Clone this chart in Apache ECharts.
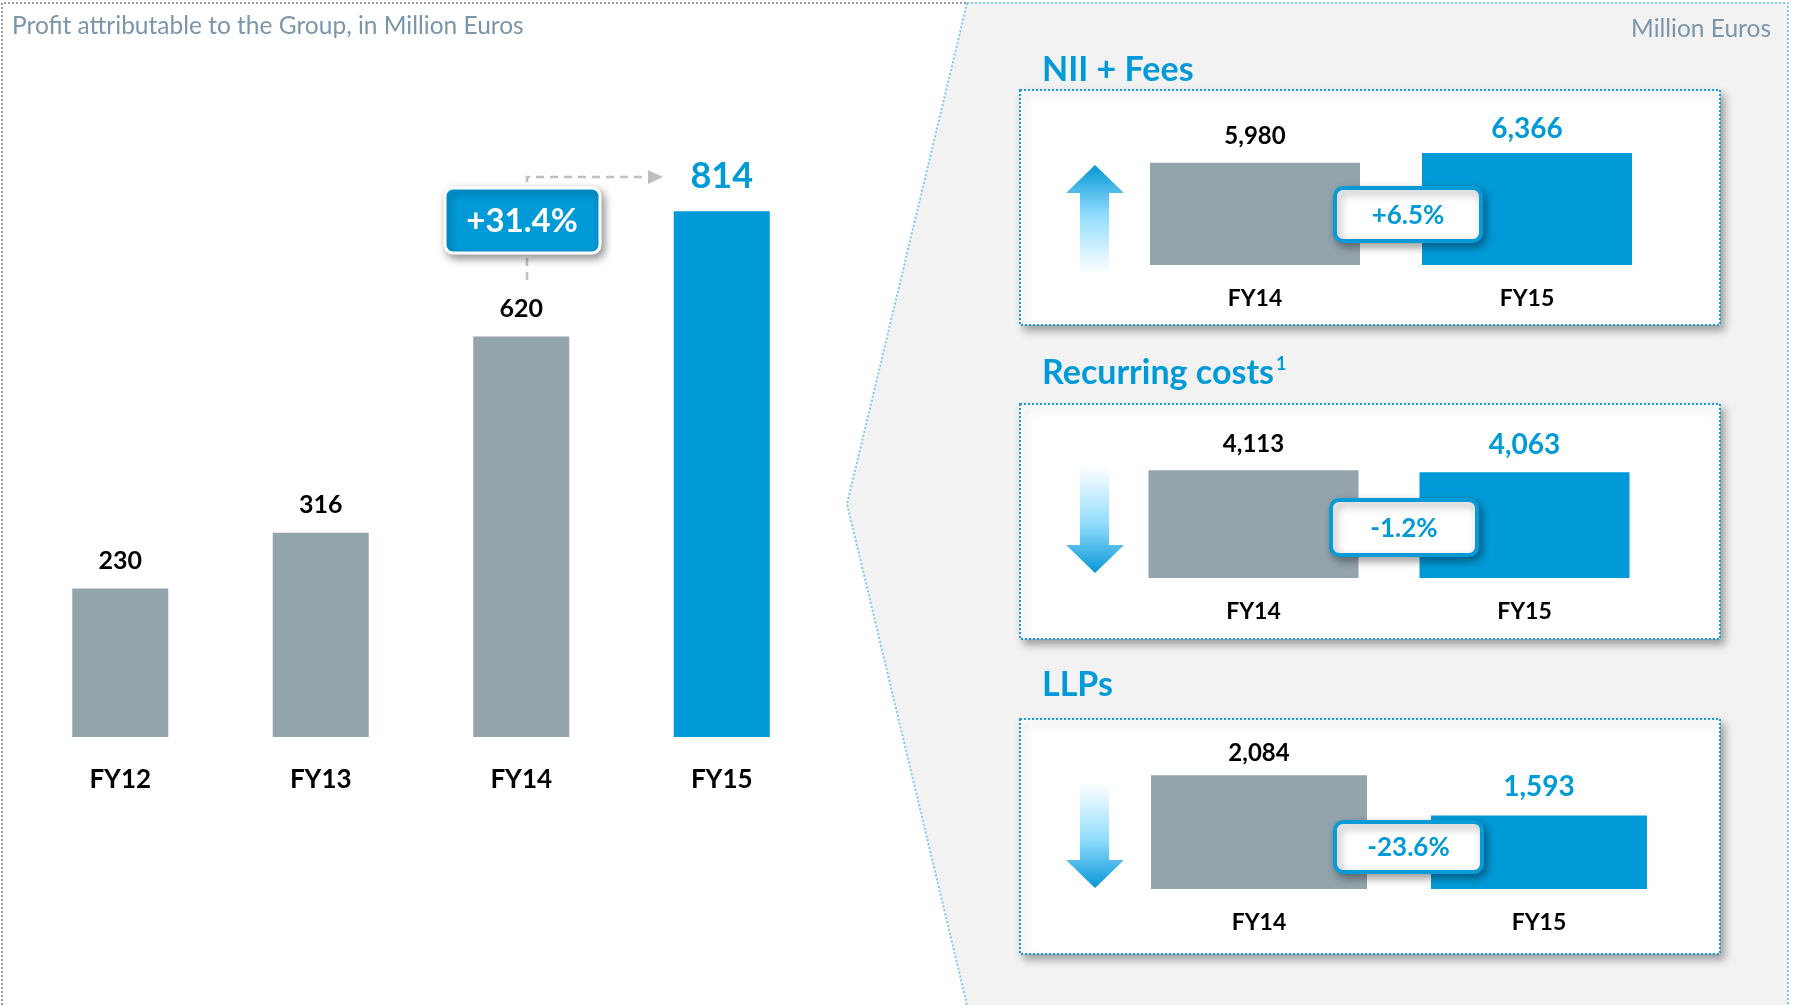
<!DOCTYPE html>
<html>
<head>
<meta charset="utf-8">
<script src="https://cdn.jsdelivr.net/npm/echarts@6/dist/echarts.min.js"></script>
<style>
  html, body { margin: 0; padding: 0; background: #ffffff; }
  #chart { width: 1795px; height: 1005px; }
</style>
</head>
<body>
<div id="chart"></div>
<script>
const years = ["FY12", "FY13", "FY14", "FY15"];
const profit = [230, 316, 620, 814];
const profitChange = "+31.4%";

const miniYears = ["FY14", "FY15"];
const niiFees = [5980, 6366];
const recurringCosts = [4113, 4063];
const llps = [2084, 1593];
const miniChanges = ["+6.5%", "-1.2%", "-23.6%"];
const miniTitles = ["NII + Fees", "Recurring costs", "LLPs"];

const GREY = "#94a4ad";
const BLUE = "#009ad8";
const FONT = "Lato";

const chartInstance = echarts.init(document.getElementById("chart"));

const fmt = (v) => v.toLocaleString("en-US");

// left big chart
const profitData = profit.map((v, i) => {
  const last = i === profit.length - 1;
  return {
    value: v,
    itemStyle: { color: last ? BLUE : GREY },
    label: last
      ? { color: BLUE, fontSize: 36, distance: 17, fontWeight: "bold", fontFamily: FONT }
      : { color: "#000", fontSize: 25, distance: 15, fontWeight: "bold", fontFamily: FONT },
  };
});

// mini charts: grid boxes + y range
const miniLayout = [
  { grid: { left: 1119, width: 544, top: 111, height: 154 }, min: 2000, max: 8000, barWidth: 210, data: niiFees, dist: [15, 10] },
  { grid: { left: 1118, width: 542, top: 413, height: 165 }, min: 1500, max: 5500, barWidth: 210, data: recurringCosts, dist: [14, 13] },
  { grid: { left: 1119, width: 560, top: 741, height: 148 }, min: 700, max: 2500, barWidth: 216, data: llps, dist: [10, 15] },
];

const grids = [{ left: 20, width: 802, top: 91, height: 646 }];
const xAxes = [
  {
    type: "category",
    gridIndex: 0,
    data: years,
    axisLine: { show: false },
    axisTick: { show: false },
    axisLabel: { color: "#000", fontFamily: FONT, fontWeight: "bold", fontSize: 26, margin: 30 },
  },
];
const yAxes = [{ type: "value", gridIndex: 0, min: 0, max: 1000, show: false }];
const series = [
  {
    type: "bar",
    xAxisIndex: 0,
    yAxisIndex: 0,
    barWidth: 96,
    data: profitData,
    label: { show: true, position: "top", fontFamily: FONT, fontWeight: "bold", formatter: (p) => fmt(p.value) },
  },
];

miniLayout.forEach((m, k) => {
  const idx = k + 1;
  grids.push(m.grid);
  xAxes.push({
    type: "category",
    gridIndex: idx,
    data: miniYears,
    axisLine: { show: false },
    axisTick: { show: false },
    axisLabel: { color: "#000", fontFamily: FONT, fontWeight: "bold", fontSize: 23, margin: 22 },
  });
  yAxes.push({ type: "value", gridIndex: idx, min: m.min, max: m.max, show: false });
  series.push({
    type: "bar",
    xAxisIndex: idx,
    yAxisIndex: idx,
    barWidth: m.barWidth,
    data: m.data.map((v, i) => ({
      value: v,
      itemStyle: { color: i === 1 ? BLUE : GREY },
      label: i === 1
        ? { color: BLUE, fontSize: 28, distance: m.dist[1], fontWeight: "bold", fontFamily: FONT }
        : { color: "#000", fontSize: 24, distance: m.dist[0], fontWeight: "bold", fontFamily: FONT },
    })),
    label: { show: true, position: "top", fontFamily: FONT, fontWeight: "bold", formatter: (p) => fmt(p.value) },
  });
});

// decoration
const dotted = (points, color) => ({
  type: "polyline",
  z: -5,
  silent: true,
  shape: { points },
  style: { stroke: color, lineWidth: 2, lineDash: [2, 2], fill: null },
});

const boxTops = [90, 404, 719];
const titleY = [70, 373, 685];
const pctBoxes = [
  { x: 1335, y: 188, w: 146, h: 53 },
  { x: 1331, y: 500, w: 146, h: 55 },
  { x: 1335, y: 822, w: 147, h: 50 },
];
const arrows = [
  { dir: "up", top: 165, bottom: 275 },
  { dir: "down", top: 465, bottom: 573 },
  { dir: "down", top: 782, bottom: 888 },
];

const graphics = [];

graphics.push({
  type: "polygon",
  z: -10,
  silent: true,
  shape: { points: [[967, 3], [1788, 3], [1788, 1005], [967, 1005], [847, 504]] },
  style: { fill: "#f2f2f2" },
});
graphics.push(dotted([[2, 1005], [2, 3], [967, 3]], "#9a9a9a"));
graphics.push(dotted([[967, 3], [1788, 3], [1788, 1005]], "#7fcbee"));
graphics.push(dotted([[967, 3], [847, 504], [967, 1005]], "#7fcbee"));

graphics.push({
  type: "text",
  left: 12,
  top: 14,
  style: { text: "Profit attributable to the Group, in Million Euros", fill: "#7b95a9", font: `24.5px ${FONT}` },
});
graphics.push({
  type: "text",
  right: 24,
  top: 17,
  style: { text: "Million Euros", fill: "#7b95a9", font: `24.5px ${FONT}` },
});

// +31.4% callout
graphics.push({
  type: "polyline",
  z: 5,
  silent: true,
  shape: { points: [[527, 280], [527, 177], [649, 177]] },
  style: { stroke: "#bfbfbf", lineWidth: 2.5, lineDash: [8, 6], fill: null },
});
graphics.push({
  type: "polygon",
  z: 5,
  shape: { points: [[648, 170], [663, 177], [648, 184]] },
  style: { fill: "#bfbfbf" },
});
graphics.push({
  type: "rect",
  z: 10,
  shape: { x: 445, y: 188, width: 155, height: 65, r: 8 },
  style: {
    fill: BLUE, stroke: "#fff", lineWidth: 3,
    shadowBlur: 8, shadowOffsetX: 3, shadowOffsetY: 4, shadowColor: "rgba(0,0,0,0.4)",
  },
});
graphics.push({
  type: "text",
  z: 11,
  x: 522,
  y: 221,
  style: { text: profitChange, fill: "#fff", font: `bold 33px ${FONT}`, align: "center", verticalAlign: "middle" },
});

miniLayout.forEach((m, k) => {
  graphics.push({
    type: "rect",
    z: -5,
    silent: true,
    shape: { x: 1020, y: boxTops[k], width: 700, height: 235 },
    style: {
      fill: "#fff", stroke: "#1a9bd7", lineWidth: 2, lineDash: [2, 2],
      shadowBlur: 8, shadowOffsetX: 4, shadowOffsetY: 5, shadowColor: "rgba(0,0,0,0.35)",
    },
  });

  graphics.push({
    type: "text",
    z: 3,
    x: 1042,
    y: titleY[k],
    style: k === 1
      ? {
          text: `{a|${miniTitles[k]}}{b|1}`,
          verticalAlign: "middle",
          rich: {
            a: { fontFamily: FONT, fontWeight: "bold", fontSize: 34, fill: BLUE, lineHeight: 40 },
            b: { fontFamily: FONT, fontWeight: "bold", fontSize: 18, fill: BLUE, verticalAlign: "top", padding: [2, 0, 0, 2] },
          },
        }
      : { text: miniTitles[k], fill: BLUE, font: `bold 34px ${FONT}`, verticalAlign: "middle" },
  });

  const a = arrows[k];
  const pts = a.dir === "up"
    ? [[1095, a.top], [1124, a.top + 28], [1109, a.top + 28], [1109, a.bottom], [1080, a.bottom], [1080, a.top + 28], [1066, a.top + 28]]
    : [[1095, a.bottom], [1124, a.bottom - 28], [1109, a.bottom - 28], [1109, a.top], [1080, a.top], [1080, a.bottom - 28], [1066, a.bottom - 28]];
  const stops = [
    { offset: 0, color: "#0896d6" },
    { offset: 0.45, color: "#8fdcfd" },
    { offset: 1, color: "rgba(255,255,255,0.9)" },
  ];
  graphics.push({
    type: "polygon",
    z: 3,
    silent: true,
    shape: { points: pts },
    style: {
      fill: a.dir === "up"
        ? new echarts.graphic.LinearGradient(0, 0, 0, 1, stops)
        : new echarts.graphic.LinearGradient(0, 1, 0, 0, stops),
    },
  });

  const b = pctBoxes[k];
  graphics.push({
    type: "rect",
    z: 10,
    shape: { x: b.x, y: b.y, width: b.w, height: b.h, r: 8 },
    style: {
      fill: "#fff", stroke: "#0a9ad8", lineWidth: 4,
      shadowBlur: 8, shadowOffsetX: 3, shadowOffsetY: 4, shadowColor: "rgba(0,0,0,0.35)",
    },
  });
  graphics.push({
    type: "text",
    z: 11,
    x: b.x + b.w / 2,
    y: b.y + b.h / 2 + 1,
    style: { text: miniChanges[k], fill: BLUE, font: `bold 26px ${FONT}`, align: "center", verticalAlign: "middle" },
  });
});

const chartOpt = {
  animation: false,
  backgroundColor: "#ffffff",
  grid: grids.map((g) => ({ ...g, outerBoundsMode: "none" })),
  xAxis: xAxes,
  yAxis: yAxes,
  series,
  graphic: { elements: graphics },
};

chartInstance.setOption(chartOpt);
</script>
</body>
</html>
